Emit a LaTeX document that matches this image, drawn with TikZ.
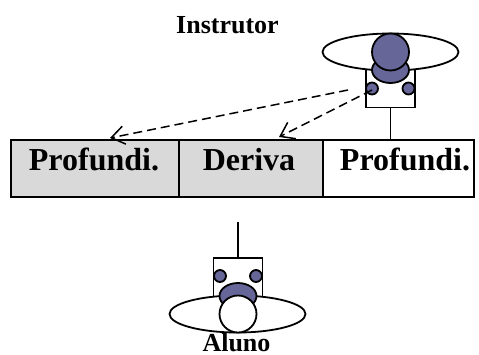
\documentclass[tikz,border=0pt]{standalone}
\usepackage{fontspec}
\setmainfont{Liberation Serif}
\usetikzlibrary{arrows.meta,shapes.geometric}
\definecolor{fig}{HTML}{666699}
\definecolor{cellgray}{HTML}{D9D9D9}
\tikzset{
 ol/.style={draw=black,line width=1.8pt},
 cell/.style={ol,minimum height=57pt,inner sep=0pt,text depth=0pt},
 lab/.style={font=\bfseries\fontsize{26}{26}\selectfont,inner sep=0pt,anchor=base},
 celltxt/.style={font=\bfseries\fontsize{32}{32}\selectfont,inner sep=0pt,anchor=base},
 dot/.style={ol,fill=fig,circle,inner sep=0pt,minimum size=12pt},
 brim/.style={ol,fill=white,ellipse,inner sep=0pt,minimum width=136pt,minimum height=37pt},
 head/.style={ol,circle,inner sep=0pt,minimum size=37pt},
 shoulder/.style={ol,fill=fig,ellipse,inner sep=0pt,minimum width=37pt,minimum height=26pt},
 body/.style={ol,fill=white,inner sep=0pt,minimum width=49pt,minimum height=38pt},
 stem/.style={draw=black,line width=1.5pt},
 look/.style={draw=black,line width=1.5pt,dash pattern=on 9pt off 5pt,-{Straight Barb[length=13pt,width=20pt,line width=1.5pt,angle'=70]}},
}
\begin{document}
\begin{tikzpicture}[x=1pt,y=-1pt]
\useasboundingbox (0,0) rectangle (479,354);
% table
\node[cell,fill=cellgray,minimum width=168pt] (c1) at (95,168.5) {};
\node[cell,fill=cellgray,minimum width=144pt] (c2) at (251,168.5) {};
\node[cell,fill=white,minimum width=151pt] (c3) at (398.5,168.5) {};
\node[celltxt] (t1) at (94,170) {Profundi.};
\node[celltxt] (t2) at (249,170) {Deriva};
\node[celltxt] (t3) at (405,170) {Profundi.};
% instructor
\node[body] (ib) at (390.5,88.5) {};
\node[brim] (ie) at (390.5,52) {};
\node[shoulder] (is) at (390.5,70) {};
\node[head,fill=fig] (ih) at (390.5,52) {};
\node[dot] (il) at (372,88.5) {};
\node[dot] (ir) at (408.5,88.5) {};
\node[lab] (ti) at (227.5,33) {Instrutor};
\draw[stem] (ib.south) -- (c3.north -| ib.south);
% student
\node[body,minimum height=40pt] (sb) at (238,278) {};
\node[brim] (se) at (237.5,314) {};
\node[shoulder] (ss) at (238,296) {};
\node[head,fill=white] (sh) at (238,314) {};
\node[dot] (sl) at (220,276) {};
\node[dot] (sr) at (256,276) {};
\coordinate (sq) at (238,222);
\draw[stem] (sq) -- (sb.north);
\node[lab] (ta) at (236.5,351) {Aluno};
% gaze
\coordinate (g1s) at (348,90);
\coordinate (g1e) at (110,138);
\coordinate (g2s) at (372,90);
\coordinate (g2e) at (279,137);
\draw[look] (g1s) -- (g1e);
\draw[look] (g2s) -- (g2e);
\end{tikzpicture}
\end{document}
